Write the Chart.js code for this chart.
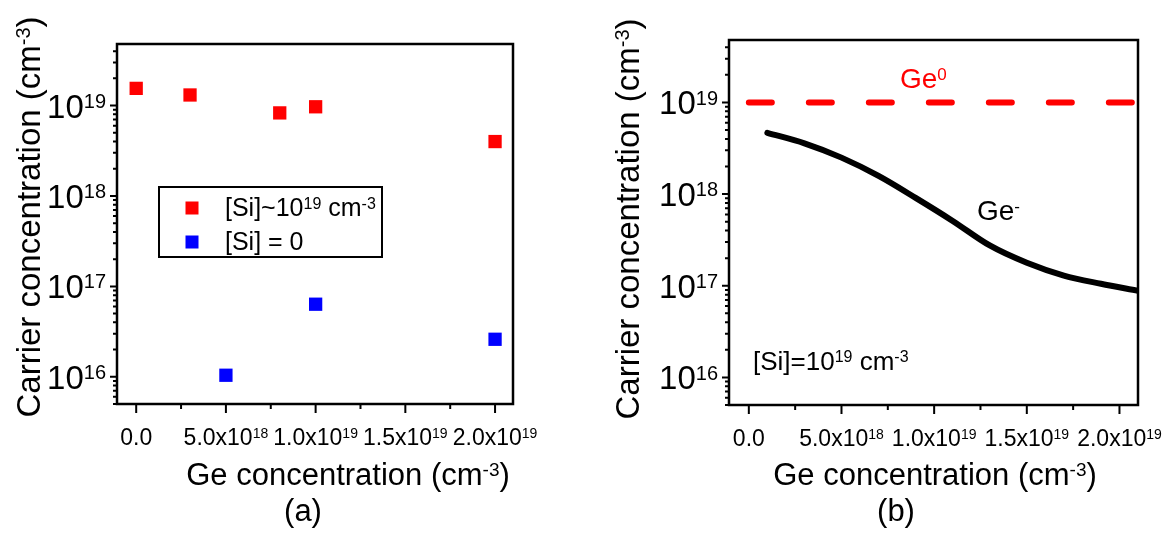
<!DOCTYPE html>
<html>
<head>
<meta charset="utf-8">
<script src="https://cdn.jsdelivr.net/npm/chart.js@4.4.0/dist/chart.umd.min.js"></script>
<style>
  html, body { margin: 0; padding: 0; background: #fff; }
  #wrap { position: relative; width: 1166px; height: 533px; }
  canvas { position: absolute; top: 0; }
  #chartA { left: 0; }
  #chartB { left: 583px; }
</style>
</head>
<body>
<div id="wrap">
  <canvas id="chartA" width="583" height="533"></canvas>
  <canvas id="chartB" width="583" height="533"></canvas>
</div>
<script>
// (a) measured carrier concentration
var geWithSi = [0, 3e18, 8e18, 1e19, 2e19];
var carrWithSi = [1.55e19, 1.31e19, 8.3e18, 9.7e18, 4.0e18];
var geNoSi = [5e18, 1e19, 2e19];
var carrNoSi = [1.04e16, 6.35e16, 2.6e16];

// (b) calculated, [Si]=1e19
var geCalc = [1e18, 3e18, 5e18, 7e18, 9e18, 1.1e19, 1.3e19, 1.5e19, 1.7e19, 1.9e19, 2.1e19];
var geMinus = [4.66e18, 3.58e18, 2.5e18, 1.58e18, 9.1e17, 5.1e17, 2.75e17, 1.78e17, 1.29e17, 1.05e17, 8.8e16];
var geZeroX = [0, 2.1e19];
var geZeroY = [1e19, 1e19];

// axes
var xMajor = [0, 5e18, 1e19, 1.5e19, 2e19];
var xLabels = ['0.0', '5.0x10{18}', '1.0x10{19}', '1.5x10{19}', '2.0x10{19}'];
var xMinor = [2.5e18, 7.5e18, 1.25e19, 1.75e19];
var yMajor = [1e16, 1e17, 1e18, 1e19];
var yLabels = ['10{16}', '10{17}', '10{18}', '10{19}'];
var xMin = -1.07e18, xMax = 2.1e19;
var yMin = 5e15, yMax = 4.8e19;

var FONT = '"Liberation Sans", Arial, sans-serif';

// text with {superscript} parts
function parts(str) {
  return str.split(/(\{[^}]*\})/).filter(Boolean).map(function (s) {
    return s[0] === '{' ? { t: s.slice(1, -1), sup: true } : { t: s, sup: false };
  });
}
function drawRich(ctx, str, x, y, size, color, align) {
  var ps = parts(str), w = 0;
  ps.forEach(function (p) {
    ctx.font = (p.sup ? Math.round(size * 0.62) : size) + 'px ' + FONT;
    w += ctx.measureText(p.t).width;
  });
  if (align === 'center') x -= w / 2;
  else if (align === 'right') x -= w;
  ctx.fillStyle = color;
  ctx.textAlign = 'left';
  ctx.textBaseline = 'alphabetic';
  ps.forEach(function (p) {
    ctx.font = (p.sup ? Math.round(size * 0.62) : size) + 'px ' + FONT;
    ctx.fillText(p.t, x, p.sup ? y - size * 0.3 : y);
    x += ctx.measureText(p.t).width;
  });
}

var frame = {
  id: 'frame',
  afterDatasetsDraw: function (chart, args, o) {
    var ctx = chart.ctx, a = chart.chartArea;
    var xs = chart.scales.x, ys = chart.scales.y;
    ctx.save();
    ctx.setLineDash([]);
    ctx.strokeStyle = '#000';
    ctx.lineCap = 'butt';
    ctx.lineWidth = 2;
    ctx.beginPath();
    xMajor.forEach(function (v) {
      var px = xs.getPixelForValue(v);
      ctx.moveTo(px, a.bottom); ctx.lineTo(px, a.bottom + 9);
    });
    xMinor.forEach(function (v) {
      var px = xs.getPixelForValue(v);
      ctx.moveTo(px, a.bottom); ctx.lineTo(px, a.bottom + 5);
    });
    for (var e = 15; e <= 19; e++) {
      for (var k = 1; k <= 9; k++) {
        var v = k * Math.pow(10, e);
        if (v < yMin || v > yMax) continue;
        var py = ys.getPixelForValue(v);
        ctx.moveTo(a.left, py); ctx.lineTo(a.left - (k === 1 ? 7 : 4), py);
      }
    }
    ctx.stroke();
    ctx.lineWidth = 2.5;
    ctx.strokeRect(a.left, a.top, a.right - a.left, a.bottom - a.top);

    xMajor.forEach(function (v, i) {
      drawRich(ctx, xLabels[i], xs.getPixelForValue(v), a.bottom + 41, 23, '#000', 'center');
    });
    yMajor.forEach(function (v, i) {
      drawRich(ctx, yLabels[i], a.left - 11, ys.getPixelForValue(v) + 12, 33, '#000', 'right');
    });

    drawRich(ctx, 'Ge concentration (cm{-3})', o.xTitleX, o.xTitleY, 31, '#000', 'center');
    drawRich(ctx, o.tag, o.tagX, o.tagY, 31, '#000', 'center');

    ctx.translate(o.yTitleX, o.yTitleY);
    ctx.rotate(-Math.PI / 2);
    drawRich(ctx, 'Carrier concentration (cm{-3})', 0, 0, 33, '#000', 'center');
    ctx.restore();
  }
};

var legendA = {
  id: 'legendA',
  afterDraw: function (chart) {
    var ctx = chart.ctx;
    ctx.save();
    ctx.strokeStyle = '#000';
    ctx.lineWidth = 2;
    ctx.strokeRect(159, 187, 223, 70);
    var rows = [['[Si]~10{19} cm{-3}', 208, 216], ['[Si] = 0', 242, 250]];
    rows.forEach(function (r, i) {
      ctx.fillStyle = chart.data.datasets[i].backgroundColor;
      ctx.fillRect(192 - 6.5, r[1] - 6.5, 13, 13);
      drawRich(ctx, r[0], 225, r[2], 25, '#000', 'left');
    });
    ctx.restore();
  }
};

var notesB = {
  id: 'notesB',
  afterDraw: function (chart) {
    var ctx = chart.ctx;
    ctx.save();
    drawRich(ctx, 'Ge{0}', 317, 88, 28, '#ff0000', 'left');
    drawRich(ctx, 'Ge{-}', 394, 220, 28, '#000', 'left');
    drawRich(ctx, '[Si]=10{19} cm{-3}', 170, 370, 26, '#000', 'left');
    ctx.restore();
  }
};

function pts(xs, ys) {
  return xs.map(function (x, i) { return { x: x, y: ys[i] }; });
}

var scales = {
  x: { type: 'linear', display: false, min: xMin, max: xMax },
  y: { type: 'logarithmic', display: false, min: yMin, max: yMax }
};

new Chart(document.getElementById('chartA'), {
  type: 'scatter',
  data: {
    datasets: [{
      label: '[Si]~1e19',
      data: pts(geWithSi, carrWithSi),
      backgroundColor: '#ff0000',
      borderColor: '#ff0000',
      borderWidth: 0,
      pointStyle: 'rect',
      pointRadius: 9.4
    }, {
      label: '[Si] = 0',
      data: pts(geNoSi, carrNoSi),
      backgroundColor: '#0000ff',
      borderColor: '#0000ff',
      borderWidth: 0,
      pointStyle: 'rect',
      pointRadius: 9.4
    }]
  },
  options: {
    responsive: false,
    animation: false,
    events: [],
    layout: { padding: { left: 117, right: 70, top: 44, bottom: 129 } },
    plugins: {
      legend: { display: false },
      tooltip: { enabled: false },
      frame: { xTitleX: 348, xTitleY: 485, tag: '(a)', tagX: 303, tagY: 521, yTitleX: 40, yTitleY: 217 }
    },
    scales: scales
  },
  plugins: [frame, legendA]
});

new Chart(document.getElementById('chartB'), {
  type: 'line',
  data: {
    datasets: [{
      label: 'Ge-',
      data: pts(geCalc, geMinus),
      borderColor: '#000',
      borderWidth: 6,
      borderCapStyle: 'round',
      borderJoinStyle: 'round',
      cubicInterpolationMode: 'monotone',
      pointRadius: 0,
      fill: false
    }, {
      label: 'Ge0',
      data: pts(geZeroX, geZeroY),
      borderColor: '#ff0000',
      borderWidth: 6,
      borderDash: [23, 37],
      borderCapStyle: 'round',
      pointRadius: 0,
      fill: false
    }]
  },
  options: {
    responsive: false,
    animation: false,
    events: [],
    layout: { padding: { left: 146, right: 28, top: 40, bottom: 128 } },
    plugins: {
      legend: { display: false },
      tooltip: { enabled: false },
      frame: { xTitleX: 352, xTitleY: 485, tag: '(b)', tagX: 313, tagY: 521, yTitleX: 56, yTitleY: 219 }
    },
    scales: scales
  },
  plugins: [frame, notesB]
});
</script>
</body>
</html>
